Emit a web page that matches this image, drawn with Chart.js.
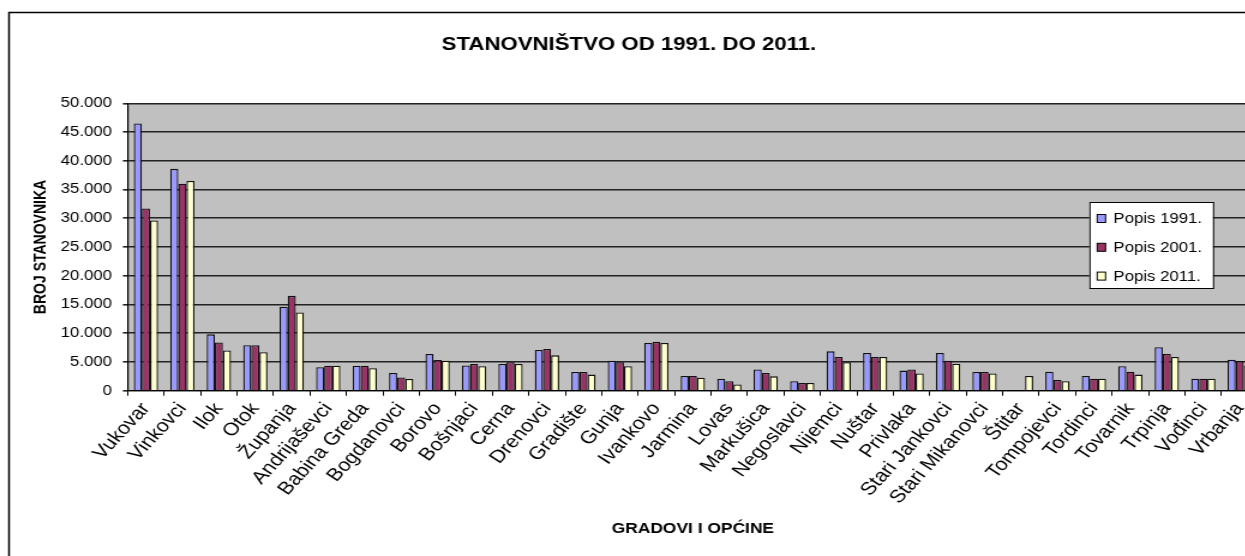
<!DOCTYPE html>
<html>
<head>
<meta charset="utf-8">
<script src="https://cdn.jsdelivr.net/npm/chart.js@4.4.0/dist/chart.umd.min.js"></script>
<style>
  html, body { margin: 0; padding: 0; background: #fff; overflow: hidden; }
  #wrap { width: 1245px; height: 556px; overflow: hidden; position: relative; }
  /* the source picture is an Excel chart stretched sideways, so stretch ours the same */
  #myChart { position: absolute; left: 0; top: 0; transform: scaleX(1.2); transform-origin: 0 0; }
</style>
</head>
<body>
<div id="wrap"><canvas id="myChart" width="1063" height="572"></canvas></div>
<script>
var gradovi = ['Vukovar', 'Vinkovci', 'Ilok', 'Otok', 'Županja', 'Andrijaševci', 'Babina Greda',
  'Bogdanovci', 'Borovo', 'Bošnjaci', 'Cerna', 'Drenovci', 'Gradište', 'Gunja', 'Ivankovo',
  'Jarmina', 'Lovas', 'Markušica', 'Negoslavci', 'Nijemci', 'Nuštar', 'Privlaka',
  'Stari Jankovci', 'Stari Mikanovci', 'Štitar', 'Tompojevci', 'Tordinci', 'Tovarnik',
  'Trpinja', 'Vođinci', 'Vrbanja'];

var popis1991 = [46500, 38600, 9800, 7900, 14600, 4100, 4350, 3100, 6400, 4400, 4650, 7100, 3250, 5200, 8300,
  2550, 2100, 3700, 1650, 6850, 6550, 3500, 6550, 3250, null, 3300, 2550, 4250, 7550, 2100, 5400];
var popis2001 = [31700, 36000, 8400, 7900, 16500, 4350, 4350, 2300, 5350, 4650, 4950, 7250, 3250, 4950, 8500,
  2550, 1650, 3100, 1350, 5850, 5850, 3700, 5200, 3250, null, 1850, 2100, 3300, 6400, 2100, 5150];
var popis2011 = [29600, 36500, 7000, 6700, 13600, 4350, 3900, 2050, 5200, 4250, 4650, 6150, 2800, 4250, 8300,
  2250, 1100, 2500, 1350, 4950, 5850, 3000, 4700, 3000, 2550, 1650, 2100, 2800, 5850, 2100, 4400];

var yMax = 50000;
var yStep = 5000;

var fontFam = '"Liberation Sans", Arial, sans-serif';
var ctx = document.getElementById('myChart').getContext('2d');

function tocke(v) {
  return String(v).replace(/\B(?=(\d{3})+(?!\d))/g, '.');
}

// gray plot area + outer chart frame
var pozadina = {
  id: 'pozadina',
  beforeDraw: function(chart) {
    var c = chart.ctx, a = chart.chartArea;
    c.save();
    c.fillStyle = '#fff';
    c.fillRect(0, 0, chart.width, chart.height);
    c.strokeStyle = '#000';
    c.lineWidth = 1.5;
    c.strokeRect(7.5, 12.5, chart.width, chart.height);
    c.fillStyle = '#C0C0C0';
    c.fillRect(a.left, a.top, a.right - a.left, a.bottom - a.top);
    c.restore();
  }
};

// Excel style legend box inside the plot
var legenda = {
  id: 'legenda',
  afterDraw: function(chart) {
    var c = chart.ctx, a = chart.chartArea;
    var x = a.right - 140.5, y = 202, w = 103, h = 86;
    c.save();
    c.fillStyle = '#fff';
    c.fillRect(x, y, w, h);
    c.strokeStyle = '#000';
    c.lineWidth = 1;
    c.strokeRect(x + 0.5, y + 0.5, w, h);
    c.font = '14px ' + fontFam;
    c.textBaseline = 'middle';
    chart.data.datasets.forEach(function(ds, i) {
      var cy = y + 16.5 + i * 28.8;
      c.fillStyle = ds.backgroundColor;
      c.fillRect(x + 6.5, cy - 4, 7, 8);
      c.strokeRect(x + 6.5, cy - 4, 7, 8);
      c.fillStyle = '#000';
      c.fillText(ds.label, x + 20, cy + 1);
    });
    c.restore();
  }
};

var chart = new Chart(ctx, {
  type: 'bar',
  data: {
    labels: gradovi,
    datasets: [
      { label: 'Popis 1991.', data: popis1991, backgroundColor: '#9999FF' },
      { label: 'Popis 2001.', data: popis2001, backgroundColor: '#993366' },
      { label: 'Popis 2011.', data: popis2011, backgroundColor: '#FFFFCC' }
    ]
  },
  options: {
    responsive: false,
    animation: false,
    devicePixelRatio: 1,
    layout: { padding: { left: 0, right: 14.7, top: 0, bottom: 0 } },
    datasets: {
      bar: {
        borderColor: '#111',
        borderWidth: 1.3,
        categoryPercentage: 0.667,
        barPercentage: 1
      }
    },
    plugins: {
      legend: { display: false },
      tooltip: { enabled: false },
      title: {
        display: true,
        text: 'STANOVNIŠTVO OD 1991. DO 2011.',
        color: '#000',
        font: { family: fontFam, size: 18.5, weight: 'bold' },
        padding: { top: 33.4, bottom: 47.7 }
      }
    },
    scales: {
      x: {
        afterFit: function(s) { s.height = 181.3; },
        grid: { offset: true, drawOnChartArea: false, drawTicks: true, tickLength: 5, color: '#000' },
        border: { display: true, color: '#000', width: 1 },
        ticks: {
          autoSkip: false, minRotation: 52, maxRotation: 52, padding: 3,
          color: '#000', font: { family: fontFam, size: 18 }
        },
        title: {
          display: true, text: 'GRADOVI I OPĆINE', color: '#000',
          font: { family: fontFam, size: 14.5, weight: 'bold' },
          padding: { top: 0, bottom: 34 }
        }
      },
      y: {
        min: 0, max: yMax,
        afterFit: function(s) { s.width = 106.4; },
        grid: { color: '#222', lineWidth: 1.6, drawTicks: true, tickLength: 4 },
        border: { display: true, color: '#000', width: 1.2 },
        ticks: {
          stepSize: yStep, padding: 9, color: '#000',
          font: { family: fontFam, size: 14 },
          callback: function(v) { return tocke(v); }
        },
        title: {
          display: true, text: 'BROJ STANOVNIKA', color: '#000',
          font: { family: fontFam, size: 14, weight: 'bold' },
          padding: { top: 25.3, bottom: 0 }
        }
      }
    }
  },
  plugins: [pozadina, legenda]
});
</script>
</body>
</html>
